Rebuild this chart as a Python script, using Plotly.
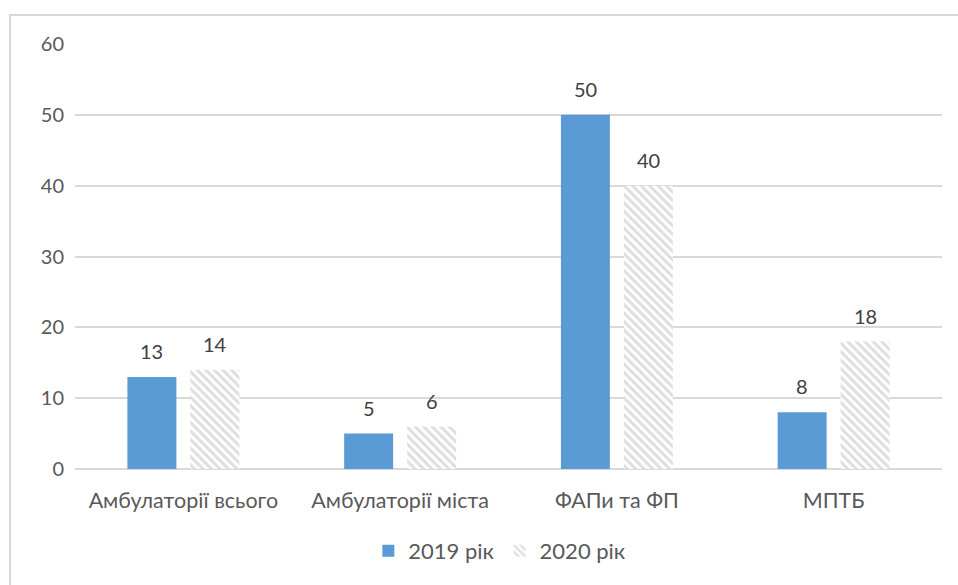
import plotly.graph_objects as go

categories = ["Амбулаторії всього", "Амбулаторії міста", "ФАПи та ФП", "МПТБ"]
values_2019 = [13, 5, 50, 8]
values_2020 = [14, 6, 40, 18]
series_names = ["2019 рік", "2020 рік"]
y_ticks = [0, 10, 20, 30, 40, 50, 60]

W, H = 958, 585
L, R, T, B = 75, 16, 44, 116
pw, ph = W - L - R, H - T - B

def px_x(x):
    return (x - L) / pw

def px_y(y):
    return (H - B - y) / ph

font = "Lato, 'Open Sans', sans-serif"
BARGAP, GROUPGAP = 0.419, 0.222
slot = pw / len(categories) * (1 - BARGAP) / 2

fig = go.Figure()
fig.add_trace(go.Bar(
    x=categories, y=values_2019, name=series_names[0],
    marker=dict(color="#5b9bd5", line=dict(width=0)),
))
fig.add_trace(go.Bar(
    x=categories, y=values_2020, name=series_names[1],
    marker=dict(color="white", line=dict(width=0),
                pattern=dict(shape="\\", fgcolor="#bdbdbd", bgcolor="white",
                             size=6, solidity=0.5)),
))

annotations = []
for vals, sign in ((values_2019, -1), (values_2020, 1)):
    for c, v in zip(categories, vals):
        annotations.append(dict(
            x=c, y=v, xref="x", yref="y", text=str(v), showarrow=False,
            xshift=sign * slot / 2, yshift=12, yanchor="bottom",
            font=dict(size=20, color="#404040", family=font)))

fig.update_layout(
    width=W, height=H,
    margin=dict(l=L, r=R, t=T, b=B),
    paper_bgcolor="white", plot_bgcolor="white",
    barmode="group", bargap=BARGAP, bargroupgap=GROUPGAP,
    font=dict(family=font, color="#595959", size=20),
    showlegend=True,
    legend=dict(orientation="h", x=0.49, xanchor="center", y=px_y(551), yanchor="middle",
                font=dict(size=22, color="#595959"), traceorder="normal",
                itemwidth=30),
    xaxis=dict(showgrid=False, showline=False, ticks="", ticklabelstandoff=16,
               tickfont=dict(size=21.5, color="#595959")),
    yaxis=dict(range=[0, 60], tickvals=y_ticks, showgrid=True, gridcolor="#d9d9d9",
               gridwidth=1.5, zeroline=True, zerolinecolor="#d9d9d9", zerolinewidth=1.5,
               showline=False, ticks="", ticklabelstandoff=10,
               tickfont=dict(size=20, color="#595959")),
    annotations=annotations,
    shapes=[dict(type="rect", xref="paper", yref="paper",
                 x0=px_x(10), x1=px_x(1000), y0=px_y(640), y1=px_y(15),
                 line=dict(color="#d9d9d9", width=2), fillcolor="rgba(0,0,0,0)",
                 layer="below")],
)

fig.write_html("out.html")
